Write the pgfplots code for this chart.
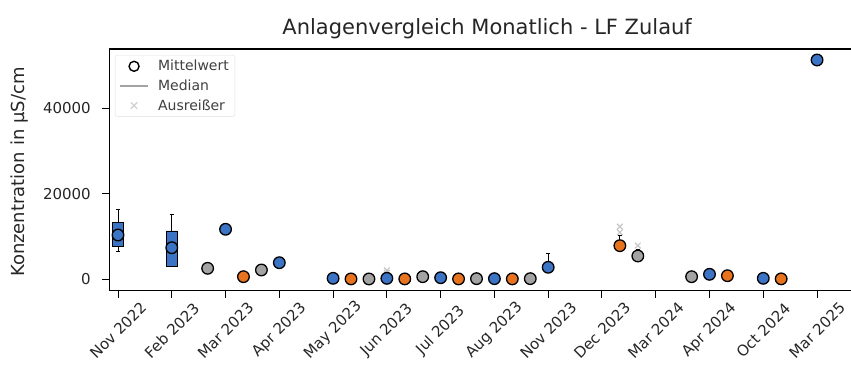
\documentclass[border=0pt]{standalone}
\usepackage{fontspec}
\setmainfont{DejaVu Sans}
\usepackage{pgfplots}
\pgfplotsset{compat=1.18}

\definecolor{pblue}{HTML}{3B73C5}
\definecolor{porange}{HTML}{E8731E}
\definecolor{pgrey}{HTML}{A3A3A3}

\pgfplotsset{
  markleg/.style={legend image code/.code={\path[draw=none, fill=none] (0pt,0pt) -- (36pt,0pt);\draw[##1] plot[only marks] coordinates {(14pt,0pt)};}},
  lineleg/.style={legend image code/.code={\path[draw=none, fill=none] (0pt,0pt) -- (36pt,0pt);\draw[##1] (0pt,0pt) -- (28pt,0pt);}},
  meanpt/.style={only marks, mark=*, mark size=5.8pt, forget plot,
    mark options={fill=#1, draw=black, line width=1.3pt}},
  whisk/.style={forget plot, black, line width=0.9pt},
  boxfill/.style={forget plot, draw=black, fill=pblue, line width=0.9pt},
}

\begin{document}
\begin{tikzpicture}
\begin{axis}[
  scale only axis,
  width=755.6pt, height=241.5pt,
  xmin=-0.162, xmax=13.89,
  ymin=-2620, ymax=53870,
  xtick={0,...,13},
  xticklabels={Nov 2022, Feb 2023, Mar 2023, Apr 2023, May 2023, Jun 2023, Jul 2023,
    Aug 2023, Nov 2023, Dec 2023, Mar 2024, Apr 2024, Oct 2024, Mar 2025},
  ytick={0,20000,40000},
  scaled y ticks=false,
  yticklabel style={/pgf/number format/set thousands separator={},
    /pgf/number format/assume math mode=true,
    font=\fontsize{15}{18}\selectfont, text=black!85, xshift=-8pt},
  tick pos=left,
  tick align=outside,
  major tick length=7pt,
  tick style={black, line width=1pt},
  axis line style={line width=1.3pt},
  xticklabel style={font=\fontsize{15}{18}\selectfont, text=black!85, anchor=center, yshift=-33pt, rotate=45},
  ylabel={Konzentration in µS/cm},
  ylabel style={font=\fontsize{18}{21}\selectfont, at={(axis description cs:-0.1182,0.49)}, anchor=center, text=black!85},
  title={Anlagenvergleich Monatlich - LF Zulauf},
  title style={font=\fontsize{21}{25}\selectfont, at={(axis description cs:0.5,1)}, anchor=base, yshift=8pt, text=black!85},
  legend style={at={(axis description cs:0.0075,0.975)}, anchor=north west,
    draw=gray!25, rounded corners=2pt, fill=white,
    font=\fontsize{14}{16}\selectfont, text=black!75,
    inner xsep=4pt, inner ysep=3pt, row sep=3.5pt},
  legend cell align=left,
  clip=false,
]
\addlegendimage{markleg, black, mark=o, mark size=5pt, line width=1.4pt}
\addlegendentry{Mittelwert}
\addlegendimage{lineleg, pgrey, line width=1.8pt}
\addlegendentry{Median}
\addlegendimage{markleg, gray!35, mark=x, mark size=4.5pt, line width=1.3pt}
\addlegendentry{Ausreißer}

% Nov 2022: Whisker, Box
\addplot[whisk] coordinates {(0,6460) (0,16440)};
\addplot[whisk] coordinates {(-0.04,16440) (0.04,16440)};
\addplot[whisk] coordinates {(-0.04,6460) (0.04,6460)};
\addplot[boxfill] coordinates {(-0.105,7630) (0.105,7630) (0.105,13240) (-0.105,13240) (-0.105,7630)};
% Feb 2023
\addplot[whisk] coordinates {(1,2950) (1,15200)};
\addplot[whisk] coordinates {(0.96,15200) (1.04,15200)};
\addplot[whisk] coordinates {(0.96,2950) (1.04,2950)};
\addplot[boxfill] coordinates {(0.895,3110) (1.105,3110) (1.105,11300) (0.895,11300) (0.895,3110)};
% Nov 2023
\addplot[whisk] coordinates {(8,1800) (8,6080)};
\addplot[whisk] coordinates {(7.96,6080) (8.04,6080)};
% Dec 2023 / Mar 2024 kurze Whisker
\addplot[whisk] coordinates {(9.333,7860) (9.333,10300)};
\addplot[whisk] coordinates {(9.293,10300) (9.373,10300)};
\addplot[whisk] coordinates {(9.667,5450) (9.667,7000)};
\addplot[whisk] coordinates {(9.627,7000) (9.707,7000)};

% Ausreisser
\addplot[only marks, mark=x, mark size=4pt, gray!45, line width=1.2pt, forget plot] coordinates {
  (5,1500) (5,2100)
  (9.333,12300) (9.333,11000)
  (9.667,7900)
};

% Mittelwerte
\addplot[meanpt=pgrey] coordinates {
  (1.667,2570) (2.667,2180) (4.667,80) (5.667,610) (6.667,150) (7.667,150)
  (9.667,5450) (10.667,610)
};
\addplot[meanpt=porange] coordinates {
  (2.333,610) (4.333,90) (5.333,90) (6.333,90) (7.333,90)
  (9.333,7860) (11.333,840) (12.333,100)
};
\addplot[meanpt=pblue] coordinates {
  (0,10360) (1,7390) (2,11700) (3,3880) (4,230) (5,230) (6,370) (7,150)
  (8,2810) (11,1170) (12,230) (13,51300)
};

\coordinate (bl) at (rel axis cs:0,0);
\end{axis}
\pgfresetboundingbox
\path[use as bounding box] ([shift={(-109.3pt,-81.5pt)}]bl) rectangle ([shift={(741.7pt,290.5pt)}]bl);
\end{tikzpicture}
\end{document}
